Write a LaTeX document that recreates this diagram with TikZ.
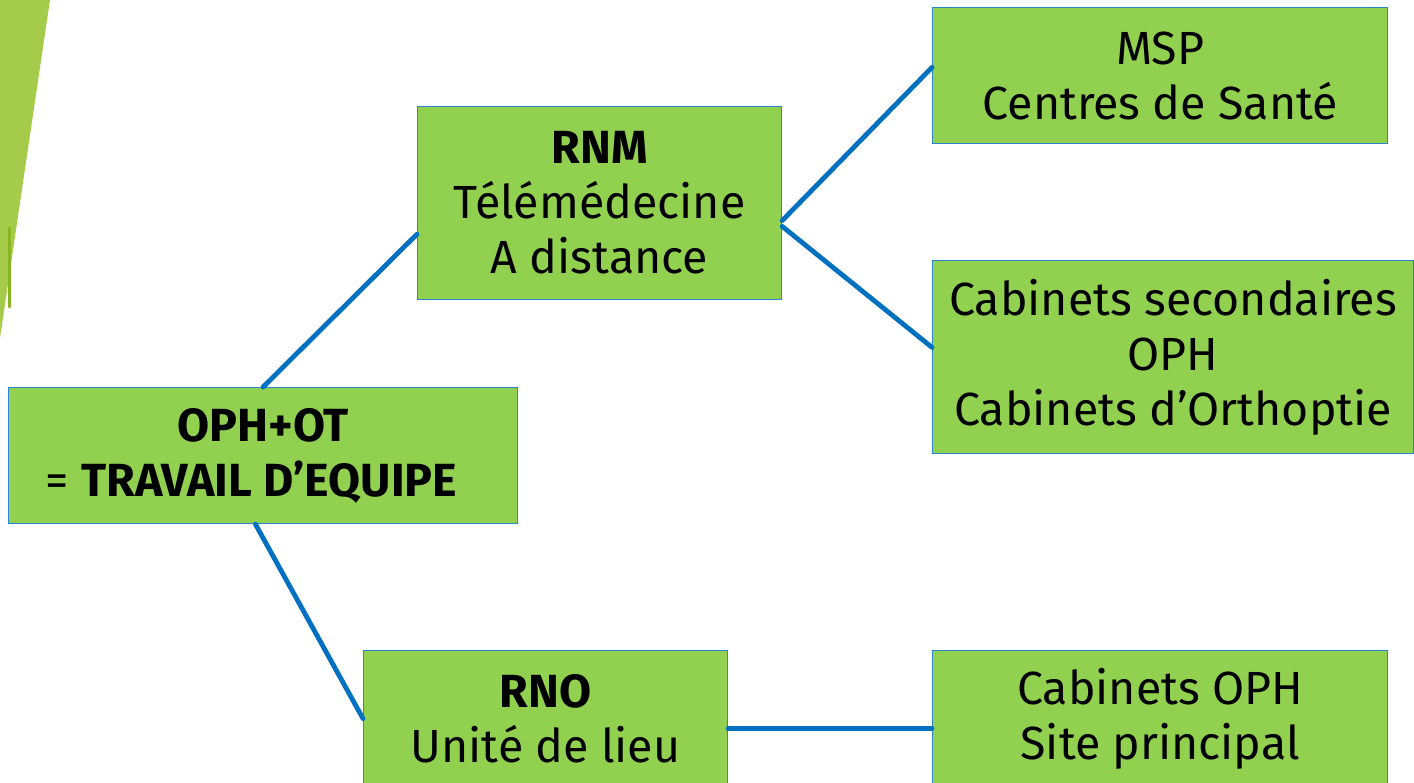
\documentclass[tikz,border=0pt]{standalone}
\usepackage{fontspec}
\setmainfont{Fira Sans}
\usepackage{tikz}
\usetikzlibrary{positioning,calc}

\definecolor{boxgreen}{HTML}{92D050}
\definecolor{linkblue}{HTML}{0070C0}
\definecolor{edgeblue}{HTML}{2A84CF}
\definecolor{facetlight}{HTML}{A4CB4A}
\definecolor{facetdark}{HTML}{88B51F}

\tikzset{
  block/.style={draw=edgeblue, line width=1.2pt, fill=boxgreen, align=center,
    inner sep=0pt, anchor=north west, font=\fontsize{46.5}{55}\selectfont},
  link/.style={draw=linkblue, line width=4.8pt, line cap=round}
}

\begin{document}
\begin{tikzpicture}[x=1pt, y=-1pt]
            \useasboundingbox (0,0) rectangle (1414,783);
            \clip (0,0) rectangle (1414,783);
            % theme decoration
            \fill[facetlight] (0,0) -- (50,0) -- (0,338) -- cycle;
            \draw[facetdark, line width=3pt, line cap=round] (9,228) -- (9,307);

            \node (equipe) [block, minimum width=509pt, minimum height=136pt] at (8,387) {\textbf{OPH+OT}\\= \textbf{TRAVAIL D’EQUIPE}\hspace*{0.5em}};
            \node (rnm) [block, minimum width=364pt, minimum height=193pt] at (417,106) {\textbf{RNM}\\Télémédecine\\A distance};
            \node (rno) [block, minimum width=364pt, minimum height=136pt] at (363,650) {\textbf{RNO}\\Unité de lieu};
            \node (msp) [block, minimum width=455pt, minimum height=136pt] at (932,7) {MSP\\Centres de Santé};
            \node (secondaires) [block, minimum width=481pt, minimum height=193pt] at (932,260) {Cabinets secondaires\\OPH\\Cabinets d’Orthoptie};
            \node (principal) [block, minimum width=455pt, minimum height=136pt] at (932,650) {Cabinets OPH\\Site principal};

            \coordinate (rnoout) at ($(rno.north east)!0.57!(rno.south east)$);

            \draw[link] (equipe.north) -- ($(rnm.north west)!0.66!(rnm.south west)$);
            \draw[link] ($(equipe.south west)!0.485!(equipe.south east)$) -- (rno.west);
            \draw[link] ($(rnm.north east)!0.59!(rnm.south east)$) -- ($(msp.north west)!0.44!(msp.south west)$);
            \draw[link] ($(rnm.north east)!0.62!(rnm.south east)$) -- ($(secondaires.north west)!0.45!(secondaires.south west)$);
            \draw[link] (rnoout) -- (rnoout -| principal.west);
        \end{tikzpicture}
\end{document}
